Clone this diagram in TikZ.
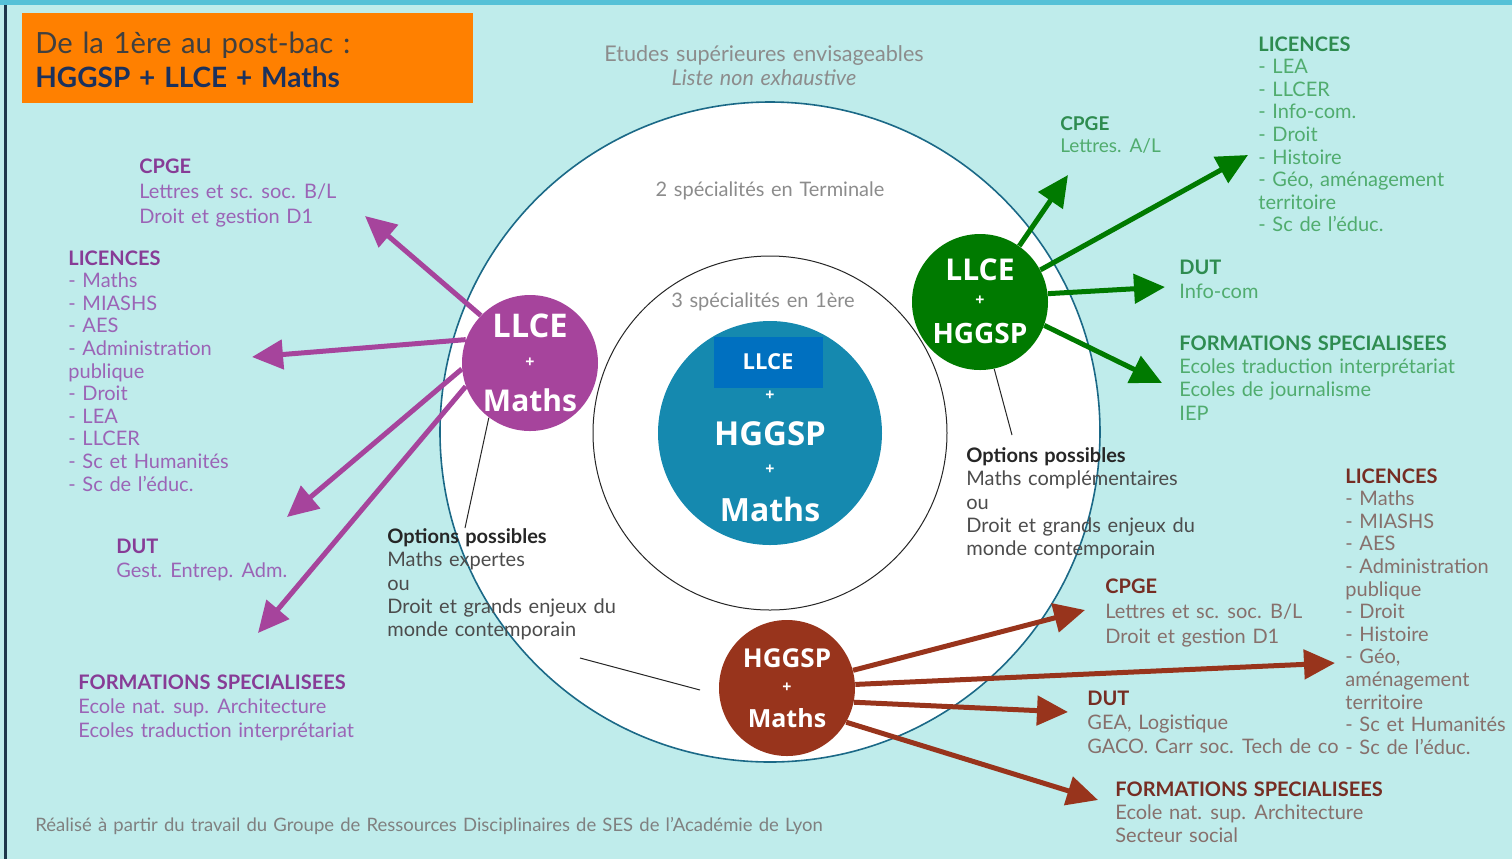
\documentclass[tikz,border=0pt]{standalone}
\usepackage{fontspec}
\setmainfont{Lato}[WordSpace=1.3]
\newfontfamily\rondfont{Open Sans}
\usetikzlibrary{positioning}
\usetikzlibrary{arrows.meta}

\definecolor{fond}{RGB}{191,236,235}
\definecolor{bandeau}{RGB}{85,193,215}
\definecolor{bordG}{RGB}{30,55,75}
\definecolor{orangeB}{RGB}{255,128,0}
\definecolor{bordC}{RGB}{27,105,135}
\definecolor{bleuC}{RGB}{21,137,175}
\definecolor{bleuR}{RGB}{0,112,192}
\definecolor{violetC}{RGB}{166,68,156}
\definecolor{violetT}{RGB}{135,60,150}
\definecolor{violetX}{RGB}{155,100,182}
\definecolor{vertC}{RGB}{0,122,0}
\definecolor{vertT}{RGB}{46,140,80}
\definecolor{vertX}{RGB}{80,172,110}
\definecolor{brunC}{RGB}{152,52,28}
\definecolor{brunT}{RGB}{118,45,35}
\definecolor{brunX}{RGB}{135,112,108}
\definecolor{grisT}{RGB}{140,140,140}

\newcommand{\entete}[2]{\textcolor{#1}{\bfseries #2}}

\begin{document}
\begin{tikzpicture}[x=0.5pt, y=-0.5pt, node distance=2pt,
    bloc/.style={anchor=north west, inner sep=0pt, align=left, font=\fontsize{10}{11.3}\selectfont},
    rond/.style={circle, minimum size=68pt, inner sep=0pt},
    etiq/.style={inner sep=0pt, text=white, font=\rondfont\bfseries\fontsize{15}{15}\selectfont},
    plus/.style={inner sep=0pt, text=white, font=\rondfont\bfseries\fontsize{8}{8}\selectfont},
    fleche/.style={line width=2.5pt, -{Triangle[length=15.5pt,width=14.5pt]}},
    trait/.style={line width=0.5pt, black!85}]

  % fond
  \fill[fond] (0,0) rectangle (1512,859);
  \fill[bandeau] (0,0) rectangle (1512,5);
  \fill[bordG] (4,5) rectangle (7,859);

  % cadre orange
  \node[fill=orangeB, anchor=north west, minimum width=225.5pt, minimum height=45pt, inner sep=0pt] (cadre) at (22,13) {};
  \node[anchor=north west, inner sep=0pt, align=left, font=\fontsize{14}{17}\selectfont, text=black!75] (titre) at (35,32)
    {\fontsize{14.6}{17}\selectfont De la 1ère au post-bac :\\\textcolor{bordG!90!blue}{\bfseries HGGSP + LLCE + Maths}};

  \node[text=grisT, align=center, font=\fontsize{10.8}{12}\selectfont] (etudes) at (764,66)
    {Etudes supérieures envisageables\\\textit{Liste non exhaustive}};

  % cercles
  \node[circle, draw=bordC, line width=0.8pt, fill=white, minimum size=330pt] (term) at (770,432) {};
  \node[circle, draw=black!85, line width=0.5pt, minimum size=177pt] (prem) at (770,433) {};
  \node[circle, fill=bleuC, minimum size=112pt] (spe) at (770,433) {};
  \node[text=grisT, font=\fontsize{10}{12}\selectfont] (deux) at (770,191) {2 spécialités en Terminale};
  \node[text=grisT, font=\fontsize{10}{12}\selectfont] (trois) at (763,302) {3 spécialités en 1ère};

  \node[fill=bleuR, minimum width=54.5pt, minimum height=25.5pt, inner sep=0pt, text=white,
        font=\rondfont\bfseries\fontsize{11}{11}\selectfont] (llce) at (768,362) {LLCE};
  \node[plus] (p1) at (770,396) {+};
  \node[etiq, font=\rondfont\bfseries\fontsize{16.5}{16}\selectfont] (hg) at (770,434) {HGGSP};
  \node[plus] (p2) at (770,470) {+};
  \node[etiq, font=\rondfont\bfseries\fontsize{16}{16}\selectfont] (ma) at (770,509) {Maths};

  \node[rond, fill=violetC] (llceM) at (530,363) {};
  \node[etiq, font=\rondfont\bfseries\fontsize{16.3}{16}\selectfont] (m1) at (530,326) {LLCE};
  \node[plus] (m2) at (530,363) {+};
  \node[etiq] (m3) at (530,400) {Maths};

  \node[rond, fill=vertC] (llceH) at (980,302) {};
  \node[etiq] (h1) at (980,270) {LLCE};
  \node[plus] (h2) at (980,301) {+};
  \node[etiq, font=\rondfont\bfseries\fontsize{14}{14}\selectfont] (h3) at (980,333) {HGGSP};

  \node[rond, fill=brunC] (hgM) at (787,688) {};
  \node[etiq, font=\rondfont\bfseries\fontsize{13}{13}\selectfont] (b1) at (787,658) {HGGSP};
  \node[plus] (b2) at (787,688) {+};
  \node[etiq, font=\rondfont\bfseries\fontsize{12.5}{13}\selectfont] (b3) at (787,718) {Maths};

  % bouts des fleches
  \coordinate (pCpge) at (365,216);
  \coordinate (pLic) at (252,357);
  \coordinate (pDut) at (287,517);
  \coordinate (pForm) at (258,633);
  \coordinate (vCpge) at (1068,175);
  \coordinate (vLic) at (1248,155);
  \coordinate (vDut) at (1165,287);
  \coordinate (vForm) at (1162,383);
  \coordinate (bCpge) at (1085,610);
  \coordinate (bLic) at (1335,663);
  \coordinate (bDut) at (1068,712);
  \coordinate (bForm) at (1098,800);
  \coordinate (o1) at (465,528);
  \coordinate (o2a) at (580,658);
  \coordinate (o2b) at (700,690);
  \coordinate (o3) at (1012,435);

  % traits fins vers les options
  \draw[trait] (llceM.233) -- (o1);
  \draw[trait] (o2a) -- (o2b);
  \draw[trait] (llceH.-78) -- (o3);

  % fleches
  \draw[fleche, violetC] (llceM.136) -- (pCpge);
  \draw[fleche, violetC] (llceM.160) -- (pLic);
  \draw[fleche, violetC] (llceM.185) -- (pDut);
  \draw[fleche, violetC] (llceM.200) -- (pForm);
  \draw[fleche, vertC] (llceH.55) -- (vCpge);
  \draw[fleche, vertC] (llceH.28) -- (vLic);
  \draw[fleche, vertC] (llceH.7) -- (vDut);
  \draw[fleche, vertC] (llceH.-20) -- (vForm);
  \draw[fleche, brunC] (hgM.15) -- (bCpge);
  \draw[fleche, brunC] (hgM.3) -- (bLic);
  \draw[fleche, brunC] (hgM.-12) -- (bDut);
  \draw[fleche, brunC] (hgM.-30) -- (bForm);

  % textes violets
  \node[bloc, text=violetX, font=\fontsize{10}{12.5}\selectfont] (cpgeP) at (139,158)
    {\entete{violetT}{CPGE}\\Lettres et sc. soc. B/L\\Droit et gestion D1};
  \node[bloc, text=violetX] (licP) at (68,250)
    {\entete{violetT}{LICENCES}\\- Maths\\- MIASHS\\- AES\\- Administration\\publique\\- Droit\\- LEA\\- LLCER\\- Sc et Humanités\\- Sc de l’éduc.};
  \node[bloc, text=violetX, font=\fontsize{10}{12}\selectfont] (dutP) at (116,539)
    {\entete{violetT}{DUT}\\Gest. Entrep. Adm.};
  \node[bloc, text=violetX, font=\fontsize{10}{12}\selectfont] (formP) at (78,674)
    {\entete{violetT}{FORMATIONS SPECIALISEES}\\Ecole nat. sup. Architecture\\Ecoles traduction interprétariat};

  % textes verts
  \node[bloc, text=vertX, font=\fontsize{9.5}{11}\selectfont] (cpgeV) at (1060,116)
    {\entete{vertT}{CPGE}\\Lettres. A/L};
  \node[bloc, text=vertX] (licV) at (1258,36)
    {\entete{vertT}{LICENCES}\\- LEA\\- LLCER\\- Info-com.\\- Droit\\- Histoire\\- Géo, aménagement\\territoire\\- Sc de l’éduc.};
  \node[bloc, text=vertX, font=\fontsize{10}{12}\selectfont] (dutV) at (1179,260)
    {\entete{vertT}{DUT}\\Info-com};
  \node[bloc, text=vertX, font=\fontsize{10}{11.7}\selectfont] (formV) at (1179,335)
    {\entete{vertT}{FORMATIONS SPECIALISEES}\\Ecoles traduction interprétariat\\Ecoles de journalisme\\IEP};

  % textes bruns
  \node[bloc, text=brunX] (licB) at (1345,468)
    {\entete{brunT}{LICENCES}\\- Maths\\- MIASHS\\- AES\\- Administration\\publique\\- Droit\\- Histoire\\- Géo,\\aménagement\\territoire\\- Sc et Humanités\\- Sc de l’éduc.};
  \node[bloc, text=brunX, font=\fontsize{10}{12.5}\selectfont] (cpgeB) at (1105,578)
    {\entete{brunT}{CPGE}\\Lettres et sc. soc. B/L\\Droit et gestion D1};
  \node[bloc, text=brunX, font=\fontsize{10}{12}\selectfont] (dutB) at (1087,691)
    {\entete{brunT}{DUT}\\GEA, Logistique\\GACO. Carr soc. Tech de co};
  \node[bloc, text=brunX, font=\fontsize{10}{11.7}\selectfont] (formB) at (1115,781)
    {\entete{brunT}{FORMATIONS SPECIALISEES}\\Ecole nat. sup. Architecture\\Secteur social};

  % options
  \node[bloc, text=black!70, font=\fontsize{10}{11.7}\selectfont] (optG) at (387,528)
    {\entete{black!85}{Options possibles}\\Maths expertes\\ou\\Droit et grands enjeux du\\monde contemporain};
  \node[bloc, text=black!70, font=\fontsize{10}{11.7}\selectfont] (optD) at (966,447)
    {\entete{black!85}{Options possibles}\\Maths complémentaires\\ou\\Droit et grands enjeux du\\monde contemporain};

  \node[anchor=west, inner sep=0pt, text=black!50, font=\fontsize{9.25}{10}\selectfont] (source) at (35,826)
    {Réalisé à partir du travail du Groupe de Ressources Disciplinaires de SES de l’Académie de Lyon};
\end{tikzpicture}
\end{document}
